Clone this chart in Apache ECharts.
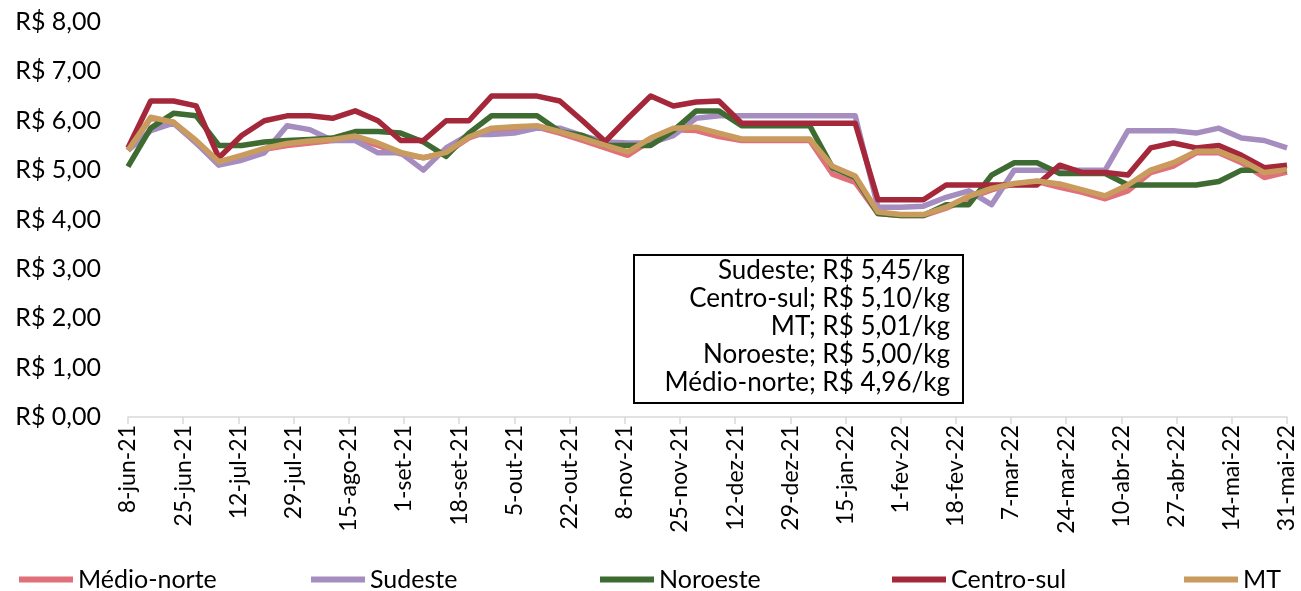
<!DOCTYPE html>
<html>
<head>
<meta charset="utf-8">
<script src="https://cdn.jsdelivr.net/npm/echarts@6/dist/echarts.min.js"></script>
<style>
  html, body { margin: 0; padding: 0; background: #fff; }
  #chart { width: 1301px; height: 591px; }
</style>
</head>
<body>
<div id="chart"></div>
<script>
// weekly quotes (Tuesdays)
var dates = [
  '2021-06-08','2021-06-15','2021-06-22','2021-06-29','2021-07-06','2021-07-13','2021-07-20','2021-07-27',
  '2021-08-03','2021-08-10','2021-08-17','2021-08-24','2021-08-31','2021-09-07','2021-09-14','2021-09-21',
  '2021-09-28','2021-10-05','2021-10-12','2021-10-19','2021-10-26','2021-11-02','2021-11-09','2021-11-16',
  '2021-11-23','2021-11-30','2021-12-07','2021-12-14','2021-12-21','2021-12-28','2022-01-04','2022-01-11',
  '2022-01-18','2022-01-25','2022-02-01','2022-02-08','2022-02-15','2022-02-22','2022-03-01','2022-03-08',
  '2022-03-15','2022-03-22','2022-03-29','2022-04-05','2022-04-12','2022-04-19','2022-04-26','2022-05-03',
  '2022-05-10','2022-05-17','2022-05-24','2022-05-31'
];

var medioNorte = [5.40,6.05,5.97,5.55,5.15,5.28,5.42,5.50,5.55,5.60,5.65,5.50,5.33,5.25,5.35,5.65,
  5.82,5.85,5.87,5.75,5.60,5.45,5.30,5.60,5.82,5.80,5.68,5.60,5.60,5.60,5.60,4.92,
  4.75,4.12,4.08,4.08,4.23,4.43,4.60,4.72,4.77,4.65,4.55,4.42,4.58,4.95,5.08,5.35,
  5.35,5.15,4.85,4.96];
var sudeste = [5.40,5.80,5.95,5.55,5.10,5.20,5.35,5.90,5.82,5.60,5.60,5.35,5.35,5.00,5.45,5.72,
  5.72,5.75,5.85,5.85,5.70,5.57,5.55,5.55,5.70,6.05,6.10,6.10,6.10,6.10,6.10,6.10,
  6.10,4.25,4.25,4.27,4.45,4.58,4.30,5.00,5.00,5.00,5.00,5.00,5.80,5.80,5.80,5.75,
  5.85,5.65,5.60,5.45];
var noroeste = [5.07,5.85,6.15,6.10,5.50,5.50,5.57,5.60,5.62,5.65,5.78,5.78,5.75,5.57,5.28,5.75,
  6.10,6.10,6.10,5.78,5.70,5.50,5.50,5.50,5.80,6.20,6.20,5.90,5.90,5.90,5.90,5.05,
  4.85,4.12,4.08,4.08,4.30,4.30,4.90,5.15,5.15,4.93,4.93,4.93,4.70,4.70,4.70,4.70,
  4.77,5.00,5.00,5.00];
var centroSul = [5.45,6.40,6.40,6.30,5.25,5.70,6.00,6.10,6.10,6.05,6.20,6.00,5.60,5.60,6.00,6.00,
  6.50,6.50,6.50,6.40,6.00,5.58,6.05,6.50,6.30,6.38,6.40,5.95,5.95,5.95,5.95,5.95,
  5.95,4.40,4.40,4.40,4.70,4.70,4.70,4.70,4.70,5.10,4.95,4.95,4.90,5.45,5.55,5.45,
  5.50,5.30,5.05,5.10];
var mt = [5.40,6.07,5.97,5.60,5.17,5.30,5.44,5.54,5.59,5.62,5.69,5.55,5.36,5.25,5.36,5.67,
  5.85,5.88,5.90,5.78,5.65,5.50,5.37,5.65,5.85,5.87,5.75,5.63,5.63,5.63,5.63,5.08,
  4.88,4.15,4.10,4.10,4.25,4.47,4.63,4.73,4.78,4.72,4.60,4.48,4.70,5.00,5.15,5.38,
  5.38,5.20,4.95,5.01];

var seriesNames = ['Médio-norte', 'Sudeste', 'Noroeste', 'Centro-sul', 'MT'];
var seriesData = [medioNorte, sudeste, noroeste, centroSul, mt];
var colors = ['#E0717B', '#A58DC0', '#3E6B31', '#A4283A', '#C99C5E'];

var tickLabels = ['8-jun-21','25-jun-21','12-jul-21','29-jul-21','15-ago-21','1-set-21','18-set-21',
  '5-out-21','22-out-21','8-nov-21','25-nov-21','12-dez-21','29-dez-21','15-jan-22','1-fev-22',
  '18-fev-22','7-mar-22','24-mar-22','10-abr-22','27-abr-22','14-mai-22','31-mai-22'];

var FONT = 'Lato, "Open Sans", sans-serif';
var t0 = Date.parse(dates[0]);
function dayOf(d) { return Math.round((Date.parse(d) - t0) / 86400000); }
function brl(v) { return 'R$ ' + v.toFixed(2).replace('.', ','); }

var chart = echarts.init(document.getElementById('chart'));

var series = seriesNames.map(function (name, k) {
  return {
    name: name,
    type: 'line',
    showSymbol: false,
    symbol: 'none',
    lineStyle: { width: 5.5, color: colors[k], join: 'round' },
    itemStyle: { color: colors[k] },
    data: seriesData[k].map(function (v, i) { return [dayOf(dates[i]), v]; })
  };
});

// one legend per item so they sit at even spacing
var legendLefts = [19, 311, 600, 892, 1184];
var legends = seriesNames.map(function (name, k) {
  return {
    data: [name],
    left: legendLefts[k],
    top: 567,
    padding: 0,
    icon: 'rect',
    itemWidth: 54,
    itemHeight: 6,
    selectedMode: false,
    textStyle: { fontFamily: FONT, fontSize: 25, color: '#000' }
  };
});

// last-week box, ordered by value
var last = seriesNames.map(function (n, k) {
  return { name: n, v: seriesData[k][seriesData[k].length - 1] };
}).sort(function (a, b) { return b.v - a.v; });

var boxTexts = last.map(function (o, j) {
  return {
    type: 'text',
    x: 950,
    y: 271 + j * 27.8,
    z: 11,
    style: {
      text: o.name + '; ' + brl(o.v) + '/kg',
      align: 'right',
      verticalAlign: 'middle',
      font: '26px ' + FONT,
      fill: '#000'
    }
  };
});

var option = {
  animation: false,
  grid: { left: 128, right: 14, top: 22, bottom: 174, containLabel: false },
  legend: legends,
  xAxis: {
    type: 'value',
    min: 0,
    max: 357,
    interval: 17,
    axisLine: { show: true, lineStyle: { color: '#d9d9d9', width: 1.5 } },
    axisTick: { show: true, length: 7, lineStyle: { color: '#d9d9d9', width: 1.5 } },
    splitLine: { show: false },
    axisLabel: {
      rotate: 90,
      margin: 8,
      fontFamily: FONT,
      fontSize: 23,
      color: '#000',
      showMinLabel: true,
      showMaxLabel: true,
      formatter: function (v) { return tickLabels[Math.round(v / 17)]; }
    }
  },
  yAxis: {
    type: 'value',
    min: 0,
    max: 8,
    interval: 1,
    axisLine: { show: false },
    axisTick: { show: false },
    splitLine: { show: false },
    axisLabel: {
      margin: 27,
      fontFamily: FONT,
      fontSize: 25,
      color: '#000',
      formatter: function (v) { return brl(v); }
    }
  },
  graphic: [
    {
      type: 'rect',
      z: 10,
      shape: { x: 634, y: 255, width: 329, height: 148 },
      style: { fill: '#fff', stroke: '#000', lineWidth: 2 }
    }
  ].concat(boxTexts),
  series: series
};

chart.setOption(option);
</script>
</body>
</html>
